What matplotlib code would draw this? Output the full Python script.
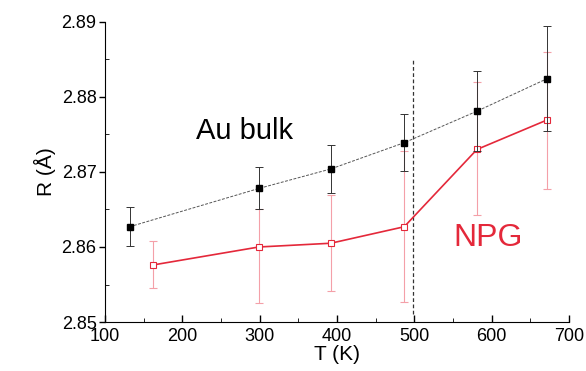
import numpy as np
import matplotlib.pyplot as plt

plt.rcParams['font.family'] = ['Liberation Sans', 'DejaVu Sans']

# Au bulk (filled squares)
t_bulk = [132, 299, 392, 487, 581, 671]
r_bulk = [2.8627, 2.8678, 2.8704, 2.8739, 2.8781, 2.8824]
err_bulk = [0.0026, 0.0028, 0.0032, 0.0038, 0.0053, 0.0070]

# NPG (open squares), asymmetric error bars
t_npg = [162, 299, 392, 487, 581, 671]
r_npg = [2.8576, 2.8600, 2.8605, 2.8627, 2.8730, 2.8769]
err_npg_lo = [0.0030, 0.0074, 0.0064, 0.0100, 0.0087, 0.0092]
err_npg_hi = [0.0032, 0.0051, 0.0064, 0.0101, 0.0090, 0.0091]

red = '#e4283a'

fig = plt.figure(figsize=(5.86, 3.71), dpi=100)
ax = fig.add_axes([0.179, 0.132, 0.792, 0.809])

ax.errorbar(t_npg, r_npg, yerr=[err_npg_lo, err_npg_hi], fmt='none',
            ecolor='#f4a0a8', elinewidth=0.8, capsize=3, capthick=0.8, zorder=2)
ax.plot(t_npg, r_npg, '-', color=red, lw=1.2, marker='s', ms=5,
        mfc='white', mec=red, mew=0.8, zorder=3)

ax.errorbar(t_bulk, r_bulk, yerr=err_bulk, fmt='none', ecolor='#333333',
            elinewidth=0.7, capsize=3, capthick=0.7, zorder=4)
ax.plot(t_bulk, r_bulk, '--', color='#555555', lw=0.7, dashes=(3, 1.5),
        marker='s', ms=5, mfc='black', mec='black', zorder=5)

ax.axvline(498, ymin=0.027, ymax=0.88, color='#333333', lw=0.9, ls=(0, (3, 2)))

ax.text(281, 2.8755, 'Au bulk', fontsize=21, ha='center', va='center')
ax.text(595, 2.8612, 'NPG', fontsize=23, ha='center', va='center', color=red)

ax.set_xlim(100, 700)
ax.set_ylim(2.85, 2.89)
ax.set_xticks(np.arange(100, 701, 100))
ax.set_xticks(np.arange(150, 700, 100), minor=True)
ax.set_yticks([2.85, 2.86, 2.87, 2.88, 2.89])
ax.set_yticks(np.arange(2.855, 2.89, 0.01), minor=True)
ax.set_yticklabels(['2.85', '2.86', '2.87', '2.88', '2.89'])
ax.tick_params(axis='both', labelsize=13, width=1)
ax.tick_params(axis='x', which='major', direction='in', length=5, pad=4)
ax.tick_params(axis='x', which='minor', direction='in', length=3)
ax.tick_params(axis='y', which='major', direction='out', length=4, pad=2)
ax.tick_params(axis='y', which='minor', direction='in', length=3)

ax.spines['top'].set_visible(False)
ax.spines['right'].set_visible(False)

ax.set_xlabel('T (K)', fontsize=15, labelpad=0)
ax.set_ylabel('R (Å)', fontsize=15, labelpad=4)

fig.savefig('out.png', dpi=100)
